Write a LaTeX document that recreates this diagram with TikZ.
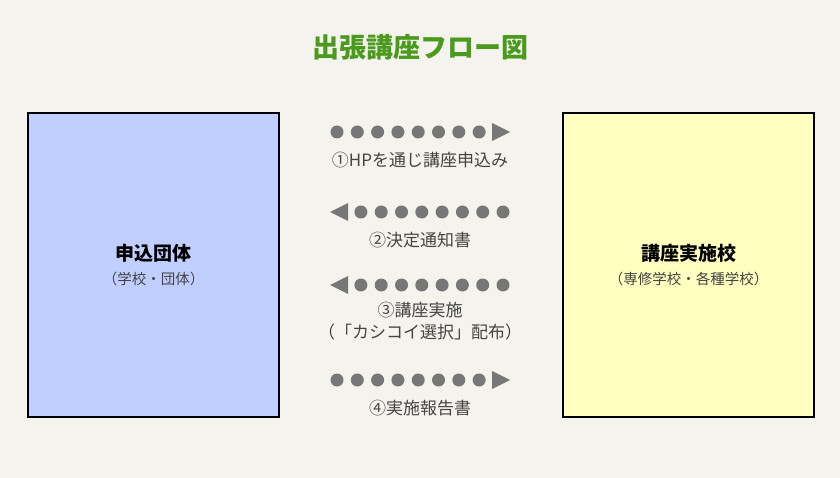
\documentclass[tikz,border=0pt]{standalone}
\usepackage{fontspec}
\setmainfont{Noto Sans CJK JP}
\usetikzlibrary{positioning}
\definecolor{bgcol}{HTML}{F5F3EE}
\definecolor{titlegreen}{HTML}{4A9A1E}
\definecolor{leftfill}{HTML}{C0CFFF}
\definecolor{rightfill}{HTML}{FFFFC0}
\definecolor{dotgray}{HTML}{777777}
\definecolor{txtgray}{HTML}{444444}
\tikzset{party/.style={draw=black,line width=2pt,minimum width=251pt,minimum height=304pt,inner sep=0pt},
  steplabel/.style={text=txtgray,font=\fontsize{17}{20}\selectfont}}
\newcommand{\dotrow}[2]{% y, direction (1 right, -1 left)
  \ifnum#2=1
    \foreach \i in {0,...,7} \fill[dotgray] (337+\i*20.3,#1) circle (6.5pt);
    \fill[dotgray] (492,#1-9) -- (510,#1) -- (492,#1+9) -- cycle;
  \else
    \foreach \i in {0,...,7} \fill[dotgray] (503-\i*20.3,#1) circle (6.5pt);
    \fill[dotgray] (348,#1-9) -- (330,#1) -- (348,#1+9) -- cycle;
  \fi}
\begin{document}
\begin{tikzpicture}[x=1pt,y=-1pt]
  \fill[bgcol] (0,0) rectangle (840,478);
  \useasboundingbox (0,0) rectangle (840,478);
  \node[text=titlegreen,font=\fontsize{27}{31}\selectfont\bfseries] (title) at (420,47) {出張講座フロー図};
  % parties
  \node[party,fill=leftfill] (client) at (153.5,265) {};
  \node[party,fill=rightfill] (school) at (688.5,265) {};
  \node[font=\fontsize{19}{22}\selectfont\bfseries] (clientname) at (153.5,253) {申込団体};
  \node[font=\fontsize{14.5}{17}\selectfont,text=txtgray] (clientsub) at (153.5,279) {（学校・団体）};
  \node[font=\fontsize{19}{22}\selectfont\bfseries] (schoolname) at (688.5,253) {講座実施校};
  \node[font=\fontsize{14.5}{17}\selectfont,text=txtgray] (schoolsub) at (688.5,279) {（専修学校・各種学校）};
  % steps
  \dotrow{132}{1}
  \node[steplabel] (stepa) at (420,160) {①HPを通じ講座申込み};
  \dotrow{212}{-1}
  \node[steplabel] (stepb) at (420,240) {②決定通知書};
  \dotrow{285}{-1}
  \node[steplabel] (stepc) at (420,310) {③講座実施};
  \node[steplabel] (stepcsub) at (420,332) {（「カシコイ選択」配布）};
  \dotrow{380}{1}
  \node[steplabel] (stepd) at (420,408) {④実施報告書};
\end{tikzpicture}
\end{document}
